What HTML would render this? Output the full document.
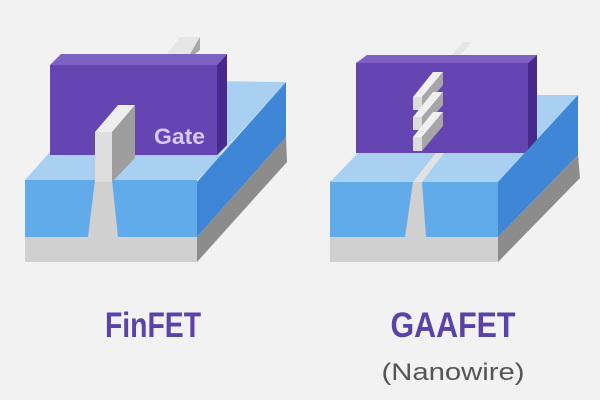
<!DOCTYPE html>
<html><head><style>
html,body{margin:0;padding:0;background:#f2f2f2;}
svg{display:block;}
</style></head><body>
<svg width="600" height="400" viewBox="0 0 600 400" xmlns="http://www.w3.org/2000/svg">
<rect width="600" height="400" fill="#f2f2f2"/>
<!-- ===== FinFET ===== -->
<polygon points="167,54 180,37 200,37 190,54" fill="#e6e6e6"/>
<polygon points="190,54 200,37 200,50 195,54" fill="#a8a8a8"/>
<polygon points="25,180 114,80 286,82 197,180" fill="#a9d0f1"/>
<polygon points="50,65 61,54 227,54 217,65" fill="#7d62c4"/>
<polygon points="217,65 227,54 227,145 217,155" fill="#482a8e"/>
<rect x="50" y="65" width="167" height="90" fill="#6445b1"/>
<polygon points="25,180 52,155 224,155 197,180" fill="#a9d0f1"/>
<polygon points="197,182 286,82 286,137 197,237" fill="#3f86d7"/>
<polygon points="197,237 286,137 287,162 197,262" fill="#8c8c8c"/>
<rect x="25" y="180" width="172" height="57" fill="#62abea"/>
<rect x="25" y="237" width="172" height="25" fill="#d0d0d0"/>
<polygon points="95,180 112,180 118,237 88,237" fill="#d0d0d0"/>
<polygon points="112,132 135,105 135,158 112,182" fill="#9e9e9e"/>
<rect x="95" y="132" width="17" height="50" fill="#dedede"/>
<polygon points="95,132 118,105 135,105 112,132" fill="#eeeeee"/>
<text x="154" y="144" font-family="Liberation Sans, sans-serif" font-weight="bold" font-size="22" fill="#d9c9fa" textLength="51" lengthAdjust="spacingAndGlyphs">Gate</text>

<!-- ===== GAAFET ===== -->
<polygon points="452,55 463,42 472,42 460,55" fill="#e6e6e6"/>
<polygon points="330,182 420,95 578,95 498,182" fill="#a9d0f1"/>
<polygon points="356,63 367,55 537,55 528,63" fill="#7d62c4"/>
<polygon points="528,63 537,55 537,143 528,153" fill="#482a8e"/>
<rect x="356" y="63" width="172" height="90" fill="#6445b1"/>
<polygon points="330,182 358,153 530,153 498,182" fill="#a9d0f1"/>
<polygon points="413,182 436,153 444,153 422,182" fill="#e2e2e2"/>
<polygon points="498,182 578,95 578,155 498,237" fill="#3f86d7"/>
<polygon points="498,237 578,155 580,178 498,262" fill="#8c8c8c"/>
<rect x="330" y="182" width="168" height="55" fill="#62abea"/>
<rect x="330" y="237" width="168" height="25" fill="#d0d0d0"/>
<polygon points="413,182 422,182 426,237 405,237" fill="#d0d0d0"/>
<g>
<polygon points="413,97 433,72 443,72 422,97" fill="#efefef"/>
<polygon points="422,97 443,72 443,85 422,110" fill="#a6a6a6"/>
<rect x="413" y="97" width="9" height="13" fill="#dcdcdc"/>
</g>
<g>
<polygon points="413,117 433,92 443,92 422,117" fill="#efefef"/>
<polygon points="422,117 443,92 443,105 422,130" fill="#a6a6a6"/>
<rect x="413" y="117" width="9" height="13" fill="#dcdcdc"/>
</g>
<g>
<polygon points="413,137 433,112 443,112 422,137" fill="#efefef"/>
<polygon points="422,137 443,112 443,126 422,151" fill="#a6a6a6"/>
<rect x="413" y="137" width="9" height="14" fill="#dcdcdc"/>
</g>

<text x="153" y="337" text-anchor="middle" font-family="Liberation Sans, sans-serif" font-weight="bold" font-size="35" fill="#5b42a8" textLength="96" lengthAdjust="spacingAndGlyphs">FinFET</text>
<text x="453" y="337" text-anchor="middle" font-family="Liberation Sans, sans-serif" font-weight="bold" font-size="35" fill="#5b42a8" textLength="125" lengthAdjust="spacingAndGlyphs">GAAFET</text>
<text x="453" y="380" text-anchor="middle" font-family="Liberation Sans, sans-serif" font-size="24" fill="#555555" textLength="143" lengthAdjust="spacingAndGlyphs">(Nanowire)</text>
</svg>
</body></html>
